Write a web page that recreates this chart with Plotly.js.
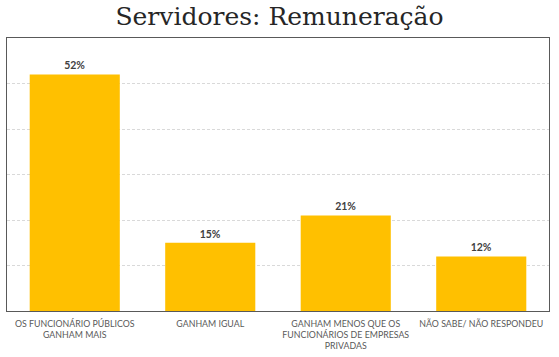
<!DOCTYPE html>
<html>
<head>
<meta charset="utf-8">
<script src="https://cdn.plot.ly/plotly-3.0.1.min.js"></script>
<style>html,body{margin:0;padding:0;background:#fff;}#chart{width:559px;height:357px;}</style>
</head>
<body>
<div id="chart"></div>
<script>
var categories = [
  "OS FUNCIONÁRIO PÚBLICOS<br>GANHAM MAIS",
  "GANHAM IGUAL",
  "GANHAM MENOS QUE OS<br>FUNCIONÁRIOS DE EMPRESAS<br>PRIVADAS",
  "NÃO SABE/ NÃO RESPONDEU"
];
var values = [52, 15, 21, 12];
var valueLabels = values.map(function(v){ return v + "%"; });

var trace = {
  type: "bar",
  x: categories,
  y: values,
  text: valueLabels,
  textposition: "outside",
  cliponaxis: false,
  textfont: {family: "Lato, 'Open Sans', sans-serif", size: 10.5, color: "#404040", weight: "bold"},
  marker: {color: "#FFC000"},
  hoverinfo: "skip"
};

var layout = {
  width: 559, height: 357,
  margin: {l: 7, r: 10, t: 38, b: 46},
  paper_bgcolor: "#ffffff",
  plot_bgcolor: "#ffffff",
  bargap: 0.335,
  showlegend: false,
  title: {
    text: "Servidores: Remuneração",
    font: {family: "'DejaVu Serif', serif", size: 25, color: "#262626"},
    x: 0.5, xanchor: "center",
    y: 0.955, yanchor: "middle", yref: "container"
  },
  xaxis: {
    showline: true, mirror: true, linecolor: "#595959", linewidth: 1,
    ticks: "", showgrid: false, tickangle: 0, ticklabelstandoff: 4,
    tickfont: {family: "Lato, 'Open Sans', sans-serif", size: 8.8, color: "#595959"},
    fixedrange: true
  },
  yaxis: {
    range: [0, 60], dtick: 10,
    showticklabels: false, ticks: "",
    showline: true, mirror: true, linecolor: "#595959", linewidth: 1,
    showgrid: true, gridcolor: "#d9d9d9", griddash: "3px,2px", gridwidth: 1,
    zeroline: false, fixedrange: true
  }
};

Plotly.newPlot("chart", [trace], layout, {displayModeBar: false, staticPlot: true});
</script>
</body>
</html>
